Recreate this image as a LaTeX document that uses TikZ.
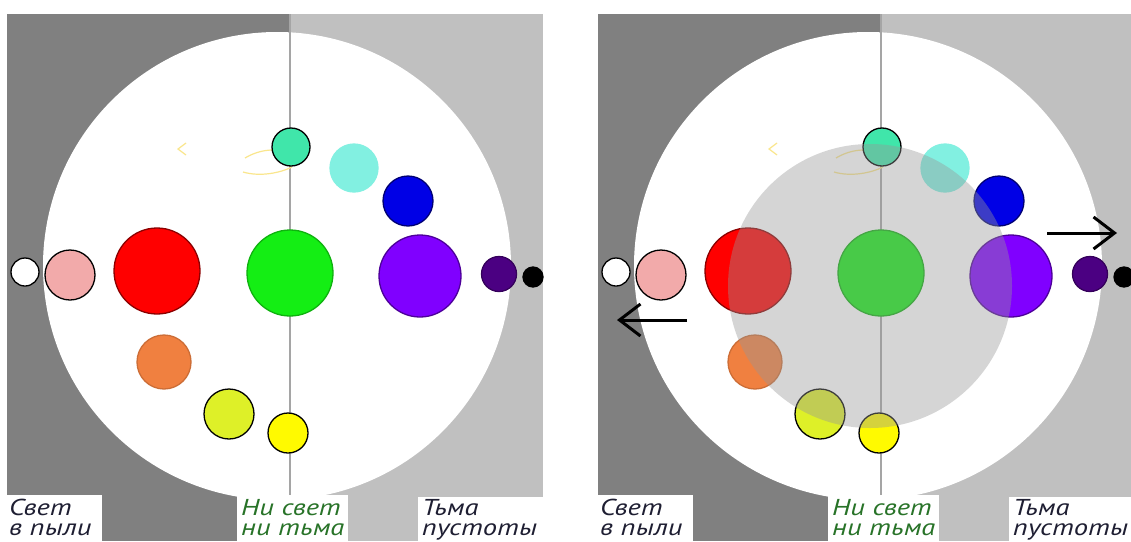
\documentclass[tikz,border=0pt]{standalone}
\usepackage{fontspec}
\usepackage{xcolor}
\usepackage{tikz}
\usetikzlibrary{arrows.meta}
\newfontfamily\lblfont[FakeStretch=1.24]{PT Sans}
\definecolor{bgdark}{RGB}{128,128,128}
\definecolor{bglight}{RGB}{192,192,192}
\definecolor{axisgray}{RGB}{165,165,165}
\definecolor{cpink}{RGB}{242,170,170}
\definecolor{cred}{RGB}{255,0,0}
\definecolor{cgreen}{RGB}{20,238,20}
\definecolor{cviolet}{RGB}{128,0,255}
\definecolor{cindigo}{RGB}{75,0,130}
\definecolor{cteal}{RGB}{64,230,170}
\definecolor{ccyan}{RGB}{130,240,225}
\definecolor{cblue}{RGB}{0,0,230}
\definecolor{corange}{RGB}{240,128,64}
\definecolor{clime}{RGB}{222,240,40}
\definecolor{cyellow}{RGB}{255,250,0}
\definecolor{cfaint}{RGB}{250,230,140}
\definecolor{txtdark}{RGB}{30,30,50}
\definecolor{txtgreen}{RGB}{40,115,40}
\definecolor{shadegray}{RGB}{150,150,150}

\begin{document}
\begin{tikzpicture}[x=1pt, y=-1pt,
  ball/.style={circle, inner sep=0pt, line width=1.3pt},
  faint/.style={draw=cfaint, line width=1.2pt},
  lblbox/.style={fill=white, anchor=north west, inner sep=0pt, minimum height=46pt},
  lbltext/.style={anchor=north west, inner sep=0pt, align=left, font=\lblfont\itshape\fontsize{23}{20}\selectfont},
  arr/.style={line width=3pt, -{Straight Barb[length=21pt, width=32pt]}}]
\useasboundingbox (0,0) rectangle (1131,541);
% two copies of the scheme
\foreach \p/\dx in {l/0, r/591} {
\begin{scope}[xshift=\dx pt]
\fill[bgdark] (7,14) rectangle (290,541);
\fill[bglight] (290,14) rectangle (543,541);
\fill[white] (277,266) circle[radius=234];
\draw[axisgray, line width=1.2pt] (290,14) -- (290,495);
% faint marks
\draw[faint] (186,143) -- (178,149) -- (186,155);
\draw[faint] (245,158) .. controls (255,152) and (265,150) .. (273,150);
\draw[faint] (243,172) .. controls (260,177) and (280,173) .. (292,167);
% middle row
\node[ball, fill=white, draw=black, minimum size=28pt] (\p-white) at (25,272) {};
\node[ball, fill=cpink, draw=black, minimum size=50pt] (\p-pink) at (70,275) {};
\node[ball, fill=cred, draw=cred!55!black, minimum size=86pt] (\p-red) at (157,271) {};
\node[ball, fill=cgreen, draw=cgreen!75!black, minimum size=86pt] (\p-green) at (290,273) {};
\node[ball, fill=cviolet, draw=cviolet!60!black, minimum size=82pt] (\p-violet) at (420,276) {};
\node[ball, fill=cindigo, draw=cindigo!70!black, minimum size=35pt] (\p-indigo) at (499,274) {};
\node[ball, fill=black, draw=black, minimum size=20pt] (\p-black) at (533,277) {};
% upper arc
\node[ball, fill=cteal, draw=black, minimum size=38pt] (\p-teal) at (291,147) {};
\node[ball, fill=ccyan, draw=ccyan, minimum size=48pt] (\p-cyan) at (354,168) {};
\node[ball, fill=cblue, draw=cblue!50!black, minimum size=50pt] (\p-blue) at (408,201) {};
% lower arc
\node[ball, fill=corange, draw=corange!85!black, minimum size=54pt] (\p-orange) at (164,362) {};
\node[ball, fill=clime, draw=black, minimum size=50pt] (\p-lime) at (229,414) {};
\node[ball, fill=cyellow, draw=black, minimum size=40pt] (\p-yellow) at (288,433) {};
% captions
\node[lblbox, minimum width=95pt] (\p-svetbox) at (7,495) {};
\node[lbltext, text=txtdark] (\p-svet) at (9,499) {Свет\\в пыли};
\node[lblbox, minimum width=111pt] (\p-nibox) at (237,495) {};
\node[lbltext, text=txtgreen] (\p-ni) at (241,499) {Ни свет\\ни тьма};
\node[lblbox, minimum width=125pt] (\p-tmabox) at (418,497) {};
\node[lbltext, text=txtdark] (\p-tma) at (422,499) {Тьма\\пустоты};
\end{scope}
}
% shade over the right scheme
\fill[shadegray, fill opacity=0.4] (870,286) circle[radius=142];
% arrows
\coordinate (outl-from) at (687,320);
\coordinate (outl-to) at (617,320);
\coordinate (outr-from) at (1047,233);
\coordinate (outr-to) at (1117,233);
\draw[arr] (outl-from) -- (outl-to);
\draw[arr] (outr-from) -- (outr-to);
\end{tikzpicture}
\end{document}
